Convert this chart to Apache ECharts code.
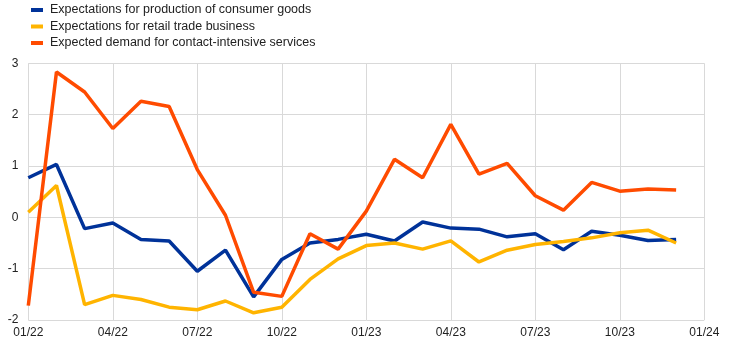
<!DOCTYPE html>
<html>
<head>
<meta charset="utf-8">
<script src="https://cdn.jsdelivr.net/npm/echarts@6/dist/echarts.min.js"></script>
<style>html,body{margin:0;padding:0;background:#fff}#c{width:742px;height:347px}</style>
</head>
<body>
<div id="c"></div>
<script>
var categories = ["01/22","02/22","03/22","04/22","05/22","06/22","07/22","08/22","09/22","10/22","11/22","12/22",
  "01/23","02/23","03/23","04/23","05/23","06/23","07/23","08/23","09/23","10/23","11/23","12/23","01/24"];
var consumerGoods = [0.77,1.03,-0.22,-0.11,-0.43,-0.46,-1.05,-0.64,-1.55,-0.82,-0.50,-0.43,
  -0.33,-0.46,-0.09,-0.21,-0.23,-0.38,-0.32,-0.63,-0.27,-0.35,-0.45,-0.43];
var retailTrade = [0.10,0.62,-1.70,-1.52,-1.60,-1.75,-1.80,-1.63,-1.86,-1.75,-1.21,-0.81,
  -0.55,-0.50,-0.62,-0.46,-0.87,-0.64,-0.53,-0.47,-0.40,-0.30,-0.25,-0.50];
var contactServices = [-1.72,2.83,2.44,1.73,2.26,2.16,0.93,0.04,-1.46,-1.54,-0.32,-0.62,
  0.12,1.13,0.77,1.81,0.84,1.05,0.42,0.14,0.68,0.51,0.55,0.53];
var seriesNames = ["Expectations for production of consumer goods","Expectations for retail trade business","Expected demand for contact-intensive services"];
var colors = ["#003299","#FFB400","#FF4B00"];

var chart = echarts.init(document.getElementById('c'));
var font = 'Arial, "Liberation Sans", sans-serif';
var data = [consumerGoods, retailTrade, contactServices];
chart.setOption({
  animation: false,
  color: colors,
  legend: {
    orient: 'vertical', left: 26, top: -2, itemWidth: 12, itemHeight: 4, itemGap: 2.5,
    icon: 'rect',
    textStyle: {fontFamily: font, fontSize: 12.5, color: '#222', lineHeight: 14, padding: [0,0,0,2]},
    data: seriesNames
  },
  grid: {left: 28.3, right: 37.7, top: 63.3, bottom: 27, containLabel: false},
  xAxis: {
    type: 'category', data: categories, boundaryGap: false,
    axisLine: {show: true, lineStyle: {color: '#d9d9d9'}},
    axisTick: {show: false},
    axisLabel: {interval: 2, color: '#222', fontFamily: font, fontSize: 12, margin: 7},
    splitLine: {show: true, interval: 2, lineStyle: {color: '#d9d9d9'}}
  },
  yAxis: {
    type: 'value', min: -2, max: 3, interval: 1,
    axisLine: {show: false}, axisTick: {show: false},
    axisLabel: {color: '#222', fontFamily: font, fontSize: 12, margin: 10},
    splitLine: {lineStyle: {color: '#d9d9d9'}}
  },
  series: seriesNames.map(function(n, i){
    return {name: n, type: 'line', data: data[i], symbol: 'none', lineStyle: {width: 3.5, color: colors[i]}, itemStyle: {color: colors[i]}};
  })
});
</script>
</body>
</html>
